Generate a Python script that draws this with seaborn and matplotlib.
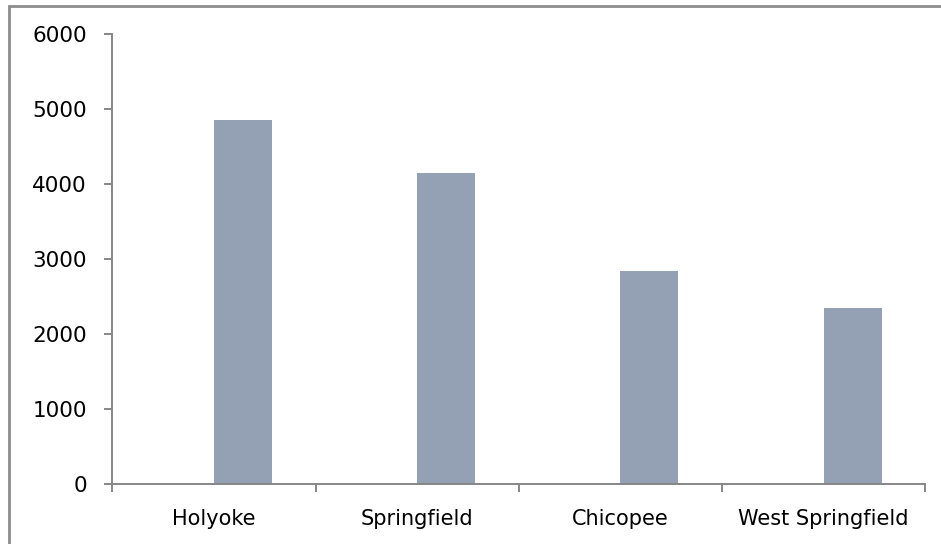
import numpy as np
import pandas as pd
import seaborn as sns
import matplotlib.pyplot as plt
from matplotlib.patches import Rectangle

# data
cities = ["Holyoke", "Springfield", "Chicopee", "West Springfield"]
series_a = [np.nan, np.nan, np.nan, np.nan]   # empty first series (keeps the offset)
series_b = [4850, 4150, 2840, 2340]
y_ticks = [0, 1000, 2000, 3000, 4000, 5000, 6000]

df = pd.DataFrame({
    "city": cities * 2,
    "series": ["A"] * 4 + ["B"] * 4,
    "value": series_a + series_b,
})

sns.set_style("white")
plt.rcParams["font.family"] = ["DejaVu Sans"]

fig = plt.figure(figsize=(9.41, 5.44), dpi=100)
ax = fig.add_axes([0.1193, 0.1112, 0.8640, 0.8263])

sns.barplot(data=df, x="city", y="value", hue="series", hue_order=["A", "B"],
            order=cities, palette=["#94A0B3", "#94A0B3"], width=0.57,
            saturation=1, errorbar=None, linewidth=0, legend=False, ax=ax)

ax.set_xlim(-0.5, 3.5)
ax.set_ylim(0, 6000)
ax.set_yticks(y_ticks)
ax.set_xlabel("")
ax.set_ylabel("")

axis_col = "#868686"
for side in ["top", "right"]:
    ax.spines[side].set_visible(False)
for side in ["left", "bottom"]:
    ax.spines[side].set_color(axis_col)
    ax.spines[side].set_linewidth(1.4)

# category boundary ticks on x
ax.set_xticks([-0.5, 0.5, 1.5, 2.5, 3.5], minor=False)
ax.set_xticklabels([])
ax.set_xticks([0, 1, 2, 3], minor=True)
ax.set_xticklabels(cities, minor=True, fontsize=15)
ax.tick_params(axis="x", which="major", direction="out", length=5.8, width=1.4,
               color=axis_col, bottom=True)
ax.tick_params(axis="x", which="minor", length=0, pad=18.5, labelcolor="black")
ax.tick_params(axis="y", direction="out", length=5.8, width=1.4, color=axis_col,
               left=True, labelsize=15.5, pad=12.5, labelcolor="black")

# outer chart border
fig.patches.append(Rectangle((9 / 941, -0.05), 1.0, 1 - 5.5 / 544 + 0.05,
                             transform=fig.transFigure, fill=False,
                             edgecolor="#8c8c8c", linewidth=2))

fig.savefig("out.png", dpi=100)
